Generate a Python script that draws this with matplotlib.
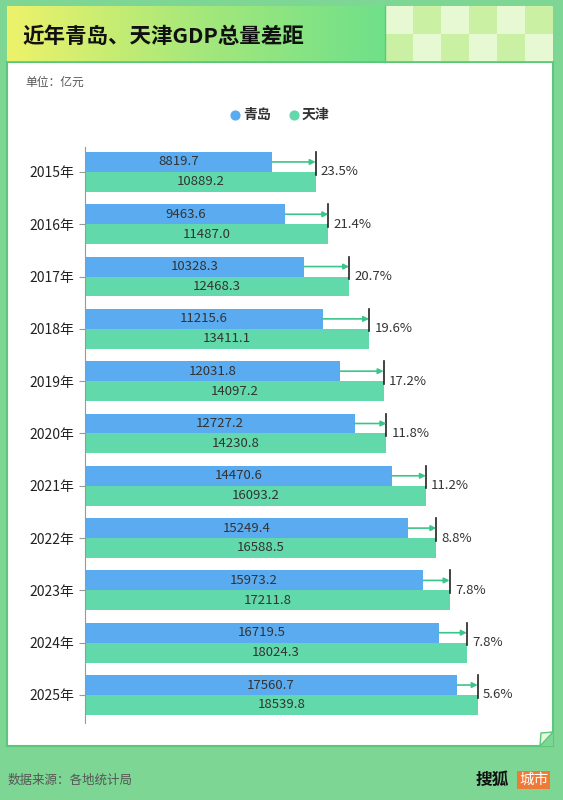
import matplotlib
matplotlib.use("Agg")
import matplotlib.pyplot as plt
import numpy as np
from matplotlib.patches import Rectangle, Polygon
from matplotlib.colors import LinearSegmentedColormap

plt.rcParams['font.family'] = ['Noto Sans CJK SC', 'DejaVu Sans']

years = ["2015年","2016年","2017年","2018年","2019年","2020年","2021年","2022年","2023年","2024年","2025年"]
qingdao = [8819.7,9463.6,10328.3,11215.6,12031.8,12727.2,14470.6,15249.4,15973.2,16719.5,17560.7]
tianjin = [10889.2,11487.0,12468.3,13411.1,14097.2,14230.8,16093.2,16588.5,17211.8,18024.3,18539.8]
gap = ["23.5%","21.4%","20.7%","19.6%","17.2%","11.8%","11.2%","8.8%","7.8%","7.8%","5.6%"]

W, H = 563, 800
fig = plt.figure(figsize=(W/100, H/100), dpi=100)
fig.patch.set_facecolor('#7dd694')
bg = fig.add_axes([0, 0, 1, 1]); bg.axis('off')
bg.add_patch(Rectangle((7, 62), 546, 684, facecolor='white', edgecolor='#5cc77a', lw=1.5))
bg.add_patch(Polygon([[540, 746], [553, 746], [553, 732]], closed=True, facecolor='#7dd694', edgecolor='none'))
bg.add_patch(Polygon([[540, 746], [553, 732], [541, 733]], closed=True, facecolor='#e8f8df', edgecolor='#5cc77a', lw=1))
grad = np.linspace(0, 1, 256).reshape(1, -1)
cm = LinearSegmentedColormap.from_list('g', ['#eef26a', '#a6e87a', '#6fe08a'])
bg.imshow(grad, cmap=cm, extent=(7, 385, 62, 6), aspect='auto', zorder=1)
bg.add_patch(Rectangle((385, 6), 168, 56, facecolor='#c9f0a3', edgecolor='none', zorder=1))
cw = 168/6
for r in range(2):
    for c in range(6):
        if (r + c) % 2 == 0:
            bg.add_patch(Rectangle((385 + c*cw, 6 + r*28), cw, 28, facecolor='#e6f9d2', edgecolor='none', zorder=2))
bg.plot([385, 385], [6, 62], color='#5cc77a', lw=1, zorder=3)
bg.plot([7, 553], [62, 62], color='#5cc77a', lw=1.2, zorder=3)
bg.set_xlim(0, W); bg.set_ylim(H, 0)
bg.text(22, 36, "近年青岛、天津GDP总量差距", fontsize=15.5, fontweight='bold', va='center', color='#111', zorder=4)
bg.text(25, 82, "单位：亿元", fontsize=8.5, va='center', color='#555')
bg.scatter([235], [115], s=40, color='#5aabf0'); bg.text(243, 115, "青岛", fontsize=10, fontweight='bold', va='center', color='#333')
bg.scatter([294], [115], s=40, color='#62d9aa'); bg.text(302, 115, "天津", fontsize=10, fontweight='bold', va='center', color='#333')
bg.text(8, 780, "数据来源：各地统计局", fontsize=9, va='center', color='#555')
bg.text(476, 780, "搜狐", fontsize=12, fontweight='bold', va='center', color='#111')
bg.text(519, 780, "城市", fontsize=10.5, va='center', color='white',
        bbox=dict(boxstyle='square,pad=0.15', fc='#f07a35', ec='none'))

ax = fig.add_axes([85/W, 77.3/H, 466/W, 575.4/H])
ax.patch.set_alpha(0)
n = len(years)
y = np.arange(n)
h = 0.38
ax.barh(y - h/2, qingdao, height=h, color='#5aabf0')
ax.barh(y + h/2, tianjin, height=h, color='#62d9aa')
for i in range(n):
    ax.text(qingdao[i]/2, i - h/2, f"{qingdao[i]:.1f}", ha='center', va='center', fontsize=9.5, color='#333')
    ax.text(tianjin[i]/2, i + h/2, f"{tianjin[i]:.1f}", ha='center', va='center', fontsize=9.5, color='#333')
    ax.annotate('', xy=(tianjin[i], i - h/2), xytext=(qingdao[i], i - h/2),
                arrowprops=dict(arrowstyle='-|>', color='#3cc58a', lw=1.2, mutation_scale=8, shrinkA=0, shrinkB=0))
    ax.plot([tianjin[i], tianjin[i]], [i - h, i + 0.05], color='#222', lw=1.2)
    ax.text(tianjin[i] + 250, i, gap[i], va='center', fontsize=9.5, color='#333')
ax.set_xlim(0, 22000)
ax.set_ylim(n - 0.47, -0.47)
ax.set_yticks(y, years)
ax.tick_params(axis='y', length=4, color='#999', labelsize=10, labelcolor='#222')
ax.set_xticks([])
for s in ['top', 'right', 'bottom']:
    ax.spines[s].set_visible(False)
ax.spines['left'].set_color('#999')
fig.savefig('out.png', dpi=100)
